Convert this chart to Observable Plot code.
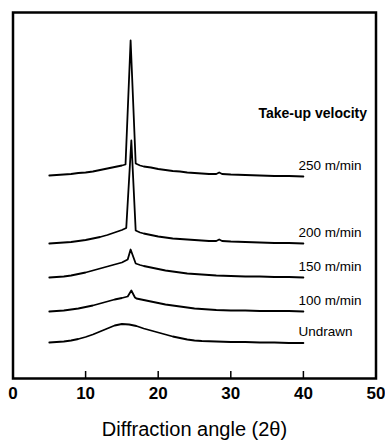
<!DOCTYPE html>
<html>
<head>
<meta charset="utf-8">
<script src="https://cdn.jsdelivr.net/npm/d3@7"></script>
<script src="https://cdn.jsdelivr.net/npm/@observablehq/plot@0.6"></script>
<style>
  html, body { margin: 0; padding: 0; background: #fff; }
  #chart { width: 385px; height: 445px; }
  svg { font-family: "Liberation Sans", Arial, Helvetica, sans-serif; }
</style>
</head>
<body>
<div id="chart"></div>
<script>
// Series names (bottom to top) and their vertical offsets (arbitrary intensity units)
const seriesNames = ["Undrawn", "100 m/min", "150 m/min", "200 m/min", "250 m/min"];
const seriesOffsets = [36, 67, 101, 135, 203];

// Diffraction angle (2θ) and relative intensity for each trace
const undrawnAngle = [5, 6, 7, 8, 9, 10, 11, 12, 13, 14, 15, 16, 17, 18, 19, 20, 21, 22, 23, 24, 25, 26, 28, 30, 32, 34, 36, 38, 40];
const undrawnIntensity = [0, 0.5, 1, 2, 3.5, 5.5, 8, 11, 14, 17, 18.5, 18, 16.5, 14, 12, 10, 8, 6, 4.5, 3, 2, 1.5, 1, 0.5, 0.5, 0, 0, -0.5, -0.5];

const v100Angle = [5, 6, 7, 8, 9, 10, 11, 12, 13, 14, 15, 15.8, 16.3, 16.8, 17, 18, 19, 20, 21, 22, 23, 24, 25, 26, 28, 30, 32, 34, 36, 38, 40];
const v100Intensity = [0, 0.5, 1, 2, 3, 4.5, 6, 8, 10, 12, 13.5, 15, 21, 14, 13, 11.5, 10, 8.5, 7, 6, 5, 4, 3, 2.5, 1.5, 1, 1, 0.5, 0.5, 0.5, 0];

const v150Angle = [5, 6, 7, 8, 9, 10, 11, 12, 13, 14, 15, 15.8, 16.2, 16.9, 17.5, 18, 19, 20, 21, 22, 23, 24, 25, 26, 28, 30, 32, 34, 36, 38, 40];
const v150Intensity = [0, 0.5, 1, 2, 3.5, 5, 7, 9, 11, 13, 15, 18, 28, 14, 12.5, 11.5, 10, 8.5, 7, 6, 5, 4, 3.5, 3, 2, 1.5, 1, 1, 0.5, 0.5, 0];

const v200Angle = [5, 6, 7, 8, 9, 10, 11, 12, 13, 14, 15, 15.6, 16.3, 16.9, 17.5, 18, 19, 20, 21, 22, 23, 24, 25, 26, 27, 28, 28.4, 28.8, 30, 32, 34, 36, 38, 40];
const v200Intensity = [0, 0.5, 1, 1.5, 2.5, 3.5, 5, 6.5, 8.5, 11, 13.5, 15.5, 103, 13, 11, 10, 8.5, 7, 6, 5, 4.5, 4, 3.5, 3, 2.5, 2.5, 4, 2.5, 2, 1.5, 1, 0.5, 0.5, 0];

const v250Angle = [5, 6, 7, 8, 9, 10, 11, 12, 13, 14, 15, 15.5, 16.2, 16.9, 17.5, 18, 19, 20, 21, 22, 23, 24, 25, 26, 27, 28, 28.4, 28.8, 30, 32, 34, 36, 38, 40];
const v250Intensity = [0, 0.5, 1, 1.5, 2.5, 3, 4, 5.5, 7, 8.5, 10, 11, 135, 12, 10, 9, 8, 6.5, 5.5, 4.5, 4, 3, 2.5, 2, 1.5, 1.5, 3, 1.5, 1, 0.5, 0, -0.5, -0.5, -1];

const xTickValues = [10, 20, 30, 40];
const xTickLabels = [0, 10, 20, 30, 40, 50];
const xTitle = "Diffraction angle (2θ)";
const legendTitle = "Take-up velocity";

const angleSets = [undrawnAngle, v100Angle, v150Angle, v200Angle, v250Angle];
const intensitySets = [undrawnIntensity, v100Intensity, v150Intensity, v200Intensity, v250Intensity];

const rows = [];
seriesNames.forEach((name, s) => {
  angleSets[s].forEach((a, i) => {
    rows.push({series: name, angle: a, y: intensitySets[s][i] + seriesOffsets[s]});
  });
});

const labelRows = seriesNames.map((name, s) => ({
  series: name,
  angle: angleSets[s][angleSets[s].length - 1],
  y: intensitySets[s][intensitySets[s].length - 1] + seriesOffsets[s]
}));
const topLabel = labelRows[labelRows.length - 1];

const chart = Plot.plot({
  width: 385,
  height: 445,
  marginLeft: 12.5,
  marginRight: 9.5,
  marginTop: 12,
  marginBottom: 67,
  style: {fontFamily: "'Liberation Sans', Arial, Helvetica, sans-serif", background: "#fff"},
  x: {domain: [0, 50], axis: null},
  y: {domain: [0, 366], axis: null},
  marks: [
    Plot.frame({stroke: "#000", strokeWidth: 2.5}),
    Plot.ruleX(xTickValues, {x: d => d, y1: 0, y2: 7, stroke: "#000", strokeWidth: 1.5}),
    Plot.line(rows, {x: "angle", y: "y", z: "series", stroke: "#000", strokeWidth: 1.8, strokeLinejoin: "round"}),
    Plot.text(labelRows, {x: "angle", y: "y", text: "series", textAnchor: "start", dx: -5, dy: -11, fontSize: 13.5, fill: "#000"}),
    Plot.text([topLabel], {x: "angle", y: "y", text: () => legendTitle, textAnchor: "start", dx: -45, dy: -63, fontSize: 14, fontWeight: "bold", fill: "#000"}),
    Plot.text(xTickLabels, {x: d => d, frameAnchor: "bottom", dy: 20, fontSize: 17, fontWeight: "bold", fill: "#000"}),
    Plot.text([xTitle], {frameAnchor: "bottom", dy: 57, fontSize: 20, fill: "#000"})
  ]
});
document.getElementById("chart").appendChild(chart);
</script>
</body>
</html>
